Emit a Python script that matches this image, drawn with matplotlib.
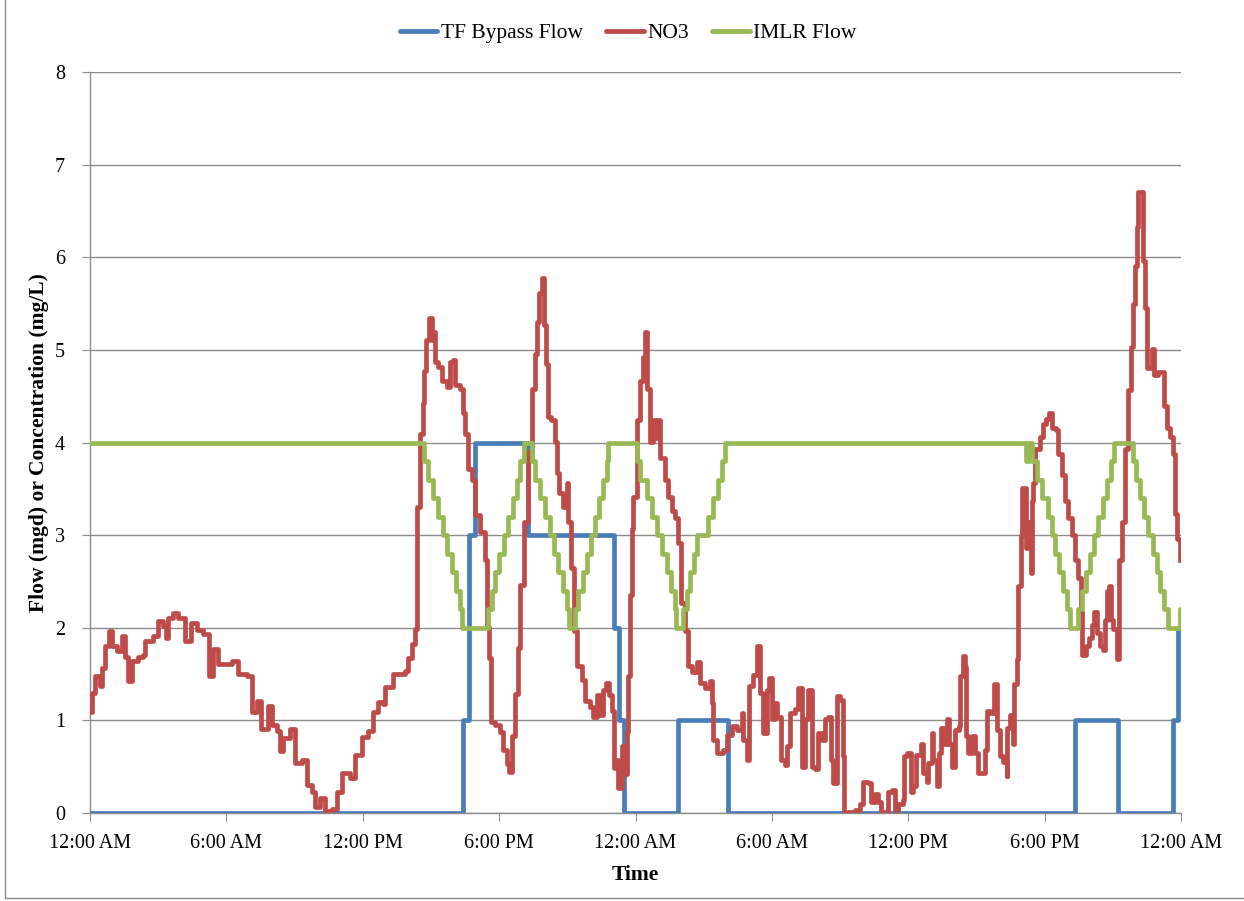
import matplotlib
matplotlib.use('Agg')
import matplotlib.pyplot as plt
from matplotlib.lines import Line2D

plt.rcParams['font.family'] = ['Liberation Serif', 'DejaVu Serif']

# hours since the first midnight (2 days shown)
tick_hours = [0, 6, 12, 18, 24, 30, 36, 42, 48]
tick_labels = ['12:00 AM', '6:00 AM', '12:00 PM', '6:00 PM', '12:00 AM',
               '6:00 AM', '12:00 PM', '6:00 PM', '12:00 AM']

# TF bypass flow (mgd), step changes
bypass_hours = [0.00, 16.42, 16.66, 16.95, 19.28, 23.05, 23.27, 23.50, 25.88, 28.08,
                43.33, 45.24, 47.65, 47.88, 48.00]
bypass_values = [0, 1, 3, 4, 3, 2, 1, 0, 1, 0, 1, 0, 1, 2, 2]

# IMLR flow (mgd), step changes
imlr_hours = [0.00, 14.69, 14.89, 15.10, 15.33, 15.52, 15.69, 15.91, 16.10, 16.28, 16.35,
              17.52, 17.67, 17.82, 18.01, 18.21, 18.40, 18.60, 18.77, 18.92, 19.09,
              19.43, 19.58, 19.80, 20.02, 20.24, 20.41, 20.60, 20.82, 20.97, 21.09,
              21.34, 21.48, 21.67, 21.85, 22.03, 22.22, 22.41, 22.58, 22.73, 22.80,
              24.08, 24.20, 24.49, 24.71, 24.93, 25.15, 25.37, 25.54, 25.74, 25.80,
              26.10, 26.25, 26.40, 26.57, 26.72, 27.20, 27.42, 27.64, 27.79, 27.94,
              41.18, 41.32, 41.45, 41.65, 41.87, 42.16, 42.31, 42.45, 42.64, 42.82,
              42.97, 43.12, 43.48, 43.63, 43.82, 44.00, 44.17, 44.36, 44.55, 44.73,
              44.90, 45.07, 45.87, 46.02, 46.19, 46.37, 46.56, 46.75, 46.93, 47.07,
              47.25, 47.44, 47.95, 48.00]
imlr_values = [4.0, 3.8, 3.6, 3.4, 3.2, 3.0, 2.8, 2.6, 2.4, 2.2, 2.0,
               2.2, 2.4, 2.6, 2.8, 3.0, 3.2, 3.4, 3.6, 3.8, 4.0,
               3.8, 3.6, 3.4, 3.2, 3.0, 2.8, 2.6, 2.4, 2.2, 2.0,
               2.2, 2.4, 2.6, 2.8, 3.0, 3.2, 3.4, 3.6, 3.8, 4.0,
               3.8, 3.6, 3.4, 3.2, 3.0, 2.8, 2.6, 2.4, 2.2, 2.0,
               2.2, 2.4, 2.6, 2.8, 3.0, 3.2, 3.4, 3.6, 3.8, 4.0,
               3.8, 4.0, 3.8, 3.6, 3.4, 3.2, 3.0, 2.8, 2.6, 2.4,
               2.2, 2.0, 2.2, 2.4, 2.6, 2.8, 3.0, 3.2, 3.4, 3.6,
               3.8, 4.0, 3.8, 3.6, 3.4, 3.2, 3.0, 2.8, 2.6, 2.4,
               2.2, 2.0, 2.2, 2.2]

# NO3 concentration (mg/L)
no3_hours = [0.00, 0.07, 0.22, 0.44, 0.51, 0.66, 0.84, 0.95, 1.17, 1.39, 1.54, 1.66, 1.83,
             2.13, 2.35, 2.42, 2.79, 3.01, 3.23, 3.33, 3.45, 3.67, 3.89, 4.18, 4.44, 4.69,
             4.99, 5.24, 5.43, 5.65, 6.23, 6.53, 6.89, 7.11, 7.33, 7.52, 7.82, 7.99, 8.21,
             8.36, 8.50, 8.80, 9.02, 9.31, 9.53, 9.75, 9.90, 10.12, 10.34, 10.63, 10.85,
             11.07, 11.44, 11.66, 11.95, 12.24, 12.46, 12.68, 12.91, 12.98, 13.34, 13.71,
             13.86, 14.00, 14.15, 14.30, 14.37, 14.40, 14.52, 14.64, 14.69, 14.78, 14.93,
             15.03, 15.10, 15.18, 15.33, 15.47, 15.69, 15.84, 15.96, 16.06, 16.28, 16.40,
             16.50, 16.65, 16.79, 16.94, 17.16, 17.38, 17.48, 17.57, 17.63, 17.82, 18.04,
             18.19, 18.33, 18.45, 18.55, 18.70, 18.84, 18.92, 19.09, 19.28, 19.43, 19.58,
             19.68, 19.77, 19.87, 19.97, 20.06, 20.16, 20.30, 20.46, 20.53, 20.65, 20.82,
             20.97, 21.04, 21.15, 21.29, 21.41, 21.63, 21.78, 22.00, 22.14, 22.29, 22.44,
             22.58, 22.70, 22.85, 22.95, 23.05, 23.17, 23.24, 23.39, 23.54, 23.61, 23.68,
             23.76, 23.83, 23.90, 24.08, 24.20, 24.31, 24.42, 24.52, 24.64, 24.75, 24.86,
             24.96, 25.08, 25.30, 25.44, 25.59, 25.74, 25.88, 26.00, 26.18, 26.33, 26.47,
             26.69, 26.84, 27.06, 27.28, 27.35, 27.42, 27.59, 27.86, 28.01, 28.23, 28.45,
             28.67, 28.74, 28.89, 29.01, 29.18, 29.36, 29.48, 29.63, 29.77, 29.89, 29.99,
             30.14, 30.24, 30.38, 30.58, 30.68, 30.80, 31.01, 31.16, 31.31, 31.45, 31.60,
             31.75, 31.89, 32.04, 32.19, 32.33, 32.48, 32.58, 32.70, 32.85, 32.99, 33.11,
             33.17, 33.44, 33.66, 33.87, 34.02, 34.24, 34.34, 34.54, 34.68, 34.78, 34.98,
             35.12, 35.27, 35.42, 35.56, 35.75, 35.81, 35.96, 36.11, 36.22, 36.34, 36.55,
             36.63, 36.81, 36.89, 37.03, 37.10, 37.25, 37.37, 37.43, 37.59, 37.69, 37.81,
             37.91, 38.06, 38.25, 38.28, 38.40, 38.50, 38.54, 38.64, 38.79, 38.93, 39.08,
             39.27, 39.38, 39.45, 39.60, 39.77, 39.89, 40.03, 40.18, 40.33, 40.36, 40.47,
             40.59, 40.65, 40.80, 40.84, 40.94, 41.00, 41.13, 41.18, 41.28, 41.38, 41.43,
             41.50, 41.57, 41.72, 41.80, 41.91, 42.06, 42.21, 42.31, 42.50, 42.60, 42.75,
             42.89, 43.04, 43.19, 43.33, 43.48, 43.58, 43.63, 43.82, 43.97, 44.07, 44.17,
             44.29, 44.43, 44.55, 44.66, 44.76, 44.85, 44.91, 45.02, 45.17, 45.29, 45.39,
             45.54, 45.68, 45.80, 45.90, 45.98, 46.05, 46.13, 46.27, 46.34, 46.42, 46.49,
             46.64, 46.71, 46.82, 47.00, 47.20, 47.26, 47.37, 47.52, 47.63, 47.73, 47.81,
             47.95]
no3_values = [1.09, 1.30, 1.48, 1.37, 1.57, 1.80, 1.96, 1.80, 1.75, 1.91, 1.68, 1.43, 1.64,
              1.68, 1.71, 1.86, 1.91, 2.07, 2.02, 1.89, 2.11, 2.16, 2.11, 1.86, 2.05, 1.98,
              1.93, 1.48, 1.77, 1.61, 1.64, 1.50, 1.48, 1.09, 1.21, 0.91, 1.16, 0.95, 0.88,
              0.67, 0.81, 0.91, 0.54, 0.57, 0.30, 0.23, 0.07, 0.16, 0.02, 0.04, 0.23,
              0.43, 0.38, 0.63, 0.82, 0.88, 1.09, 1.20, 1.18, 1.36, 1.50, 1.50,
              1.53, 1.67, 1.82, 1.99, 2.54, 3.30, 4.09, 4.43, 4.77, 5.11, 5.34,
              5.11, 5.19, 4.87, 4.81, 4.66, 4.60, 4.87, 4.89, 4.62, 4.58, 4.32,
              4.09, 3.71, 3.60, 3.22, 3.03, 2.73, 2.01, 1.67, 0.98, 0.95, 0.87,
              0.68, 0.53, 0.44, 0.83, 1.29, 1.78, 2.46, 3.14, 3.90, 4.58, 4.96,
              5.30, 5.61, 5.78, 5.27, 4.85, 4.28, 4.24, 4.01, 3.67, 3.45, 3.30,
              3.56, 3.14, 2.65, 1.97, 1.59, 1.44, 1.21, 1.14, 1.04, 1.27, 1.06,
              1.33, 1.40, 1.27, 1.10, 0.49, 0.57, 0.27, 0.72, 0.42, 0.87, 1.48,
              2.35, 3.07, 3.41, 4.24, 4.66, 4.92, 5.19, 4.58, 4.01, 4.24, 4.05,
              4.24, 3.83, 3.60, 3.41, 3.26, 3.18, 2.92, 2.27, 1.97, 1.59, 1.52,
              1.63, 1.40, 1.35, 1.42, 1.19, 0.79, 0.65, 0.68, 0.84, 0.94, 0.90,
              1.08, 0.79, 0.57, 1.37, 1.49, 1.80, 1.30, 0.86, 1.33, 1.46, 1.01,
              1.19, 1.04, 0.57, 0.52, 0.72, 1.08, 1.12, 1.35, 0.50, 1.01, 1.33,
              0.50, 0.47, 0.86, 0.79, 1.01, 1.04, 0.57, 0.32, 1.26, 1.22, 0.61,
              0.01, 0.01, 0.03, 0.10, 0.34, 0.32, 0.12, 0.21, 0.12, 0.01, 0.01,
              0.23, 0.25, 0.03, 0.10, 0.14, 0.61, 0.65, 0.23, 0.29, 0.63, 0.74,
              0.43, 0.34, 0.54, 0.86, 0.57, 0.29, 0.65, 0.92, 0.75, 1.01, 0.75,
              0.50, 0.90, 0.94, 1.48, 1.69, 1.58, 0.83, 0.65, 0.83, 0.65, 0.43,
              0.43, 0.68, 1.10, 1.08, 1.39, 0.90, 0.62, 0.55, 0.40, 0.92, 1.06,
              0.74, 1.39, 1.66, 2.45, 3.00, 3.51, 3.51, 2.86, 3.14, 2.59, 3.37,
              3.56, 3.93, 3.93, 4.06, 4.20, 4.25, 4.32, 4.16, 4.13, 3.88, 3.65,
              3.37, 3.19, 3.00, 2.73, 2.54, 2.17, 1.71, 1.80, 1.89, 2.03, 2.17,
              1.94, 1.80, 1.76, 2.08, 2.40, 2.45, 2.08, 1.99, 1.66, 2.73, 3.14,
              3.93, 4.57, 5.03, 5.50, 5.91, 6.33, 6.70, 6.70, 5.96, 5.45, 4.80,
              4.80, 5.01, 4.73, 4.76, 4.76, 4.39, 4.16, 4.06, 3.88, 3.23, 2.96,
              2.73]

blue = '#4A7EBB'
red = '#BE4B48'
green = '#98B954'
grid_gray = '#8C8C8C'

fig = plt.figure(figsize=(12.44, 9.01), dpi=100)
ax = fig.add_axes([90 / 1244, 1 - 813 / 901, (1181 - 90) / 1244, (813 - 72) / 901])

ax.step(bypass_hours, bypass_values, where='post', color=blue, lw=3.4, zorder=3)
ax.step(no3_hours, no3_values, where='post', color=red, lw=3.4, zorder=4)
ax.step(imlr_hours, imlr_values, where='post', color=green, lw=3.4, zorder=5)

ax.set_xlim(0, 48)
ax.set_ylim(0, 8)
ax.set_xticks(tick_hours)
ax.set_xticklabels(tick_labels)
ax.set_yticks(range(0, 9))
ax.grid(axis='y', color=grid_gray, lw=1)
ax.set_axisbelow(True)
for s in ['top', 'right']:
    ax.spines[s].set_visible(False)
for s in ['left', 'bottom']:
    ax.spines[s].set_color(grid_gray)
    ax.spines[s].set_linewidth(1)
ax.tick_params(direction='out', length=6, color=grid_gray, labelsize=14.5)
ax.tick_params(axis='x', pad=9)
ax.tick_params(axis='y', pad=12)

ax.set_xlabel('Time', fontsize=15.5, fontweight='bold', labelpad=9)
ax.set_ylabel('Flow (mgd) or Concentration (mg/L)', fontsize=15.5, fontweight='bold', labelpad=4)

handles = [Line2D([], [], color=blue, lw=3.5, solid_capstyle='round'),
           Line2D([], [], color=red, lw=3.5, solid_capstyle='round'),
           Line2D([], [], color=green, lw=3.5, solid_capstyle='round')]
fig.legend(handles, ['TF Bypass Flow', 'NO3', 'IMLR Flow'], loc='center', ncol=3,
           bbox_to_anchor=(0.505, 1 - 33 / 901), frameon=False, fontsize=15.5,
           handlelength=1.75, handletextpad=0.15, columnspacing=1.1)

# chart area border (left and bottom edges visible)
fig.add_artist(Line2D([5 / 1244, 5 / 1244], [1 - 898 / 901, 1.0], color=grid_gray, lw=1))
fig.add_artist(Line2D([5 / 1244, 1.0], [1 - 898 / 901, 1 - 898 / 901], color=grid_gray, lw=1))

fig.savefig('out.png', dpi=100)
